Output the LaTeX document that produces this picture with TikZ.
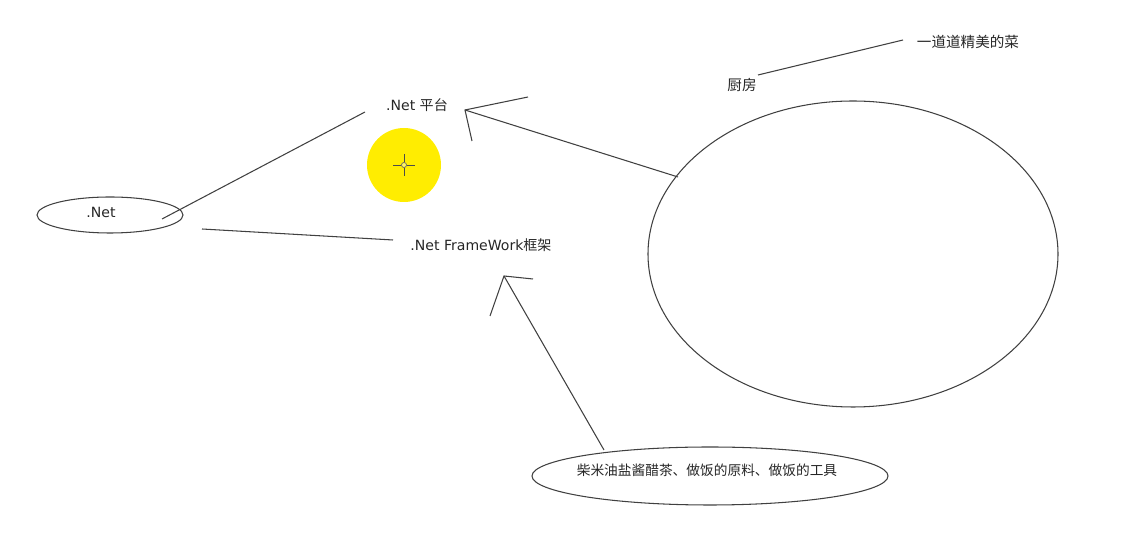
\documentclass[tikz,border=0pt]{standalone}
\usepackage{fontspec}
\setmainfont{DejaVu Sans}
\newfontfamily\cjk{Noto Sans CJK SC}
\begin{document}
\begin{tikzpicture}[x=0.02cm,y=-0.02cm,
  ln/.style={draw=black!75,line width=0.6pt},
  lbl/.style={font=\fontsize{8}{10}\selectfont,text=black!85,inner sep=0pt},
  clbl/.style={font=\cjk\fontsize{8.3}{10}\selectfont,text=black!85,inner sep=0pt}]
\useasboundingbox (0,0) rectangle (1137,546);
% yellow cursor highlight
\fill[yellow!95!orange] (404,165) circle (37);
\draw[black!70,line width=0.5pt] (393,165) -- (401,165) (407,165) -- (415,165)
  (404,154) -- (404,162) (404,168) -- (404,176);
\draw[black!60,line width=0.4pt,fill=yellow!60] (404,165) circle (2.5);
% ellipses
\draw[ln] (110,215) ellipse [x radius=73, y radius=18];
\node[lbl] (net) at (101,212) {.Net};
\draw[ln] (853,254) ellipse [x radius=205, y radius=153];
\draw[ln] (710,476) ellipse [x radius=178, y radius=29];
\node[clbl,font=\cjk\fontsize{7.8}{10}\selectfont] (res) at (707,470) {柴米油盐酱醋茶、做饭的原料、做饭的工具};
% labels
\node[lbl] (plat) at (417,105) {.Net {\cjk 平台}};
\node[lbl] (fw) at (481,245) {.Net FrameWork{\cjk 框架}};
\node[clbl] (kit) at (742,85) {厨房};
\node[clbl] (dish) at (968,42) {一道道精美的菜};
% connector coordinates
\coordinate (n1) at (162,219);
\coordinate (p1) at (365,112);
\coordinate (n2) at (202,229);
\coordinate (f1) at (393,240);
\coordinate (a1) at (465,110);
\coordinate (a1u) at (528,97);
\coordinate (a1d) at (472,141);
\coordinate (b1) at (678,177);
\coordinate (a2) at (504,276);
\coordinate (a2u) at (533,279);
\coordinate (a2d) at (490,316);
\coordinate (r1) at (604,450);
\coordinate (k1) at (758,75);
\coordinate (d1) at (903,40);
% connectors
\draw[ln] (n1) -- (p1);
\draw[ln] (n2) -- (f1);
\draw[ln] (b1) -- (a1);
\draw[ln] (a1u) -- (a1) -- (a1d);
\draw[ln] (r1) -- (a2);
\draw[ln] (a2u) -- (a2) -- (a2d);
\draw[ln] (k1) -- (d1);
\end{tikzpicture}
\end{document}
